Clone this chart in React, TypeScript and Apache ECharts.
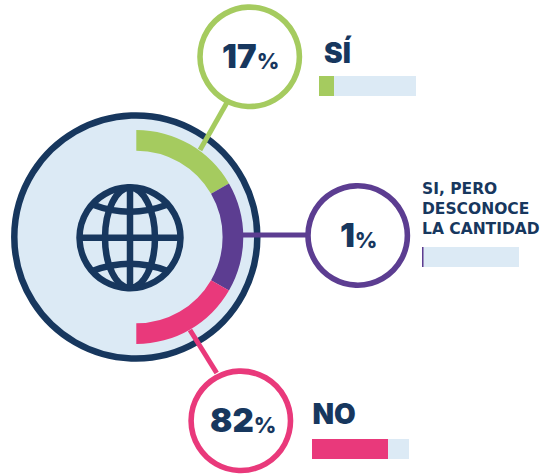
import React, { useEffect, useRef } from "react";
import * as echarts from "echarts";

// ---- data ----
const categories = ["SÍ", "SI, PERO\nDESCONOCE\nLA CANTIDAD", "NO"];
const percentLabels = [17, 1, 82];
const ringSpans = [60, 60, 60];
const barFill = [15.5, 1.8, 78.5];
const barScaleMax = 100;

// ---- styles ----
const colors = ["#a5cb5f", "#5c3d91", "#e9397b"];
const NAVY = "#17375e";
const PALE = "#dceaf5";
const FONT = "Inter, 'Noto Sans', sans-serif";
const WIDE_FONT = "'DejaVu Sans', Inter, sans-serif";

// ---- layout ----
const ringCenter = [136.3, 237];
const bubbles = [
  { x: 249.7, y: 56.8, dx: 1 },
  { x: 357.7, y: 235.5, dx: 1 },
  { x: 240.8, y: 420.8, dx: 2.5 },
];
const connectors = [
  [200, 150, 226.7, 103],
  [243, 235, 306, 235],
  [190, 330, 216.7, 373],
];
const barBoxes = [
  { left: 319, top: 76 },
  { left: 422, top: 247 },
  { left: 312, top: 439 },
];
const globe = { x: 130, y: 237.8 };

function buildGraphics() {
  const line = (s: number[], color: string, lineWidth: number) => ({
    type: "line",
    shape: { x1: s[0], y1: s[1], x2: s[2], y2: s[3] },
    style: { stroke: color, lineWidth },
  });
  const els: any[] = [
    {
      type: "circle",
      shape: { cx: ringCenter[0] - 0.5, cy: ringCenter[1], r: 121.5 },
      style: { fill: PALE, stroke: NAVY, lineWidth: 6.5 },
    },
  ];
  connectors.forEach((c, i) => els.push(line(c, colors[i], 5)));
  bubbles.forEach((b, i) => {
    els.push({
      type: "circle",
      shape: { cx: b.x, cy: b.y, r: 49.7 },
      style: { fill: "#fff", stroke: colors[i], lineWidth: 5.6 },
    });
    els.push({
      type: "text",
      x: b.x + b.dx,
      y: b.y - 0.5,
      style: {
        text: `{n|${percentLabels[i]}}{p|%}`,
        align: "center",
        verticalAlign: "middle",
        rich: {
          n: { fontFamily: FONT, fontWeight: 900, fontSize: 33, fill: NAVY, verticalAlign: "bottom" },
          p: { fontFamily: FONT, fontWeight: 800, fontSize: 22, fill: NAVY, verticalAlign: "bottom", padding: [0, 0, 1, 0] },
        },
      },
    });
  });
  // category titles
  els.push({
    type: "text",
    x: 324,
    y: 53,
    style: { text: categories[0], fontFamily: FONT, fontWeight: 900, fontSize: 28, fill: NAVY, verticalAlign: "middle" },
  });
  els.push({
    type: "text",
    x: 422,
    y: 209,
    style: {
      text: categories[1],
      fontFamily: WIDE_FONT,
      fontWeight: 700,
      fontSize: 15.5,
      lineHeight: 20,
      fill: NAVY,
      verticalAlign: "middle",
    },
  });
  els.push({
    type: "text",
    x: 312.5,
    y: 414,
    style: { text: categories[2], fontFamily: FONT, fontWeight: 900, fontSize: 28, fill: NAVY, verticalAlign: "middle" },
  });
  // globe icon
  const g = globe;
  const globeStyle = { fill: "none", stroke: NAVY, lineWidth: 6.5 };
  els.push({ type: "circle", shape: { cx: g.x, cy: g.y, r: 50.5 }, style: globeStyle });
  els.push({ type: "ellipse", shape: { cx: g.x, cy: g.y, rx: 25, ry: 50 }, style: globeStyle });
  els.push(line([g.x - 50, g.y, g.x + 50, g.y], NAVY, 6.5));
  els.push(line([g.x, g.y - 50, g.x, g.y + 50], NAVY, 6.5));
  els.push({
    type: "bezierCurve",
    shape: { x1: g.x - 37, y1: g.y - 33, x2: g.x + 37, y2: g.y - 33, cpx1: g.x, cpy1: g.y - 19 },
    style: globeStyle,
  });
  els.push({
    type: "bezierCurve",
    shape: { x1: g.x - 37, y1: g.y + 33, x2: g.x + 37, y2: g.y + 33, cpx1: g.x, cpy1: g.y + 19 },
    style: globeStyle,
  });
  return els;
}

function buildOption() {
  return {
    animation: false,
    backgroundColor: "#fff",
    graphic: { elements: buildGraphics() },
    grid: barBoxes.map((b) => ({ left: b.left, top: b.top, width: 97, height: 20, containLabel: false })),
    xAxis: barBoxes.map((_, i) => ({ type: "value", gridIndex: i, min: 0, max: barScaleMax, show: false })),
    yAxis: barBoxes.map((_, i) => ({
      type: "category",
      gridIndex: i,
      data: [categories[i]],
      show: false,
    })),
    series: [
      {
        type: "pie",
        center: ringCenter,
        radius: [86.3, 107],
        startAngle: 90,
        endAngle: -90,
        silent: true,
        label: { show: false },
        labelLine: { show: false },
        data: ringSpans.map((v, i) => ({
          value: v,
          name: categories[i],
          itemStyle: { color: colors[i] },
        })),
      },
      ...barFill.flatMap((v, i) => [
        {
          type: "bar",
          xAxisIndex: i,
          yAxisIndex: i,
          stack: `s${i}`,
          barWidth: 20,
          silent: true,
          itemStyle: { color: colors[i] },
          data: [v],
        },
        {
          type: "bar",
          xAxisIndex: i,
          yAxisIndex: i,
          stack: `s${i}`,
          barWidth: 20,
          silent: true,
          itemStyle: { color: PALE },
          data: [barScaleMax - v],
        },
      ]),
    ],
  };
}

export default function App() {
  const ref = useRef<HTMLDivElement>(null);
  useEffect(() => {
    document.body.style.margin = "0";
    const chart = echarts.init(ref.current!, null, { renderer: "svg" });
    chart.setOption(buildOption() as any);
    return () => chart.dispose();
  }, []);
  return <div ref={ref} style={{ width: 549, height: 476 }} />;
}
